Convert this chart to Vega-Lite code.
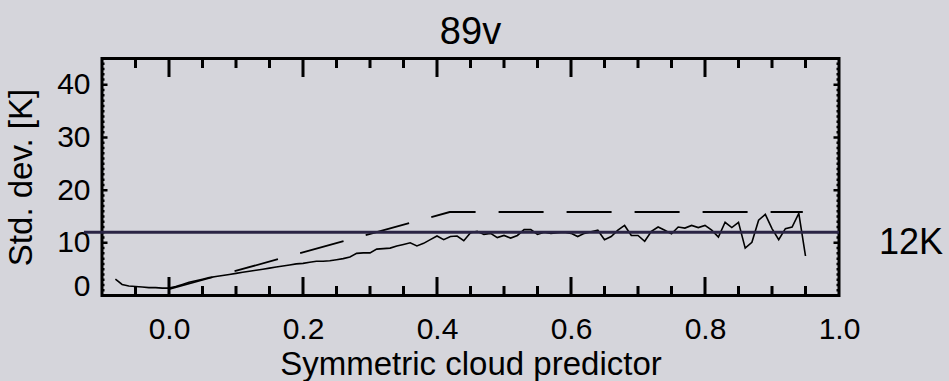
{
  "$schema": "https://vega.github.io/schema/vega-lite/v6.json",
  "width": 737,
  "height": 237,
  "autosize": "none",
  "padding": {"left": 102, "top": 58.5, "right": 110, "bottom": 85.5},
  "background": "#d5d5db",
  "title": {"text": "89v", "fontSize": 38, "font": "Liberation Sans", "fontWeight": "normal", "color": "#000000", "anchor": "middle", "offset": 7},
  "config": {
    "view": {"stroke": "#000000", "strokeWidth": 3},
    "font": "Liberation Sans",
    "axis": {"domain": false, "grid": false, "ticks": false, "labelColor": "#000000", "titleColor": "#000000", "labelFont": "Liberation Sans", "titleFont": "Liberation Sans", "titleFontWeight": "normal", "labelFlush": false, "labelOverlap": false}
  },
  "datasets": {
    "curve": [
      {"c": -0.08, "sd": 3.1}, {"c": -0.07, "sd": 2.1}, {"c": -0.06, "sd": 1.8}, {"c": -0.05, "sd": 1.7},
      {"c": -0.04, "sd": 1.6}, {"c": -0.03, "sd": 1.5}, {"c": -0.02, "sd": 1.5}, {"c": -0.01, "sd": 1.4},
      {"c": 0.00, "sd": 1.4}, {"c": 0.01, "sd": 1.7}, {"c": 0.02, "sd": 2.1}, {"c": 0.03, "sd": 2.5},
      {"c": 0.04, "sd": 2.8}, {"c": 0.05, "sd": 3.1}, {"c": 0.06, "sd": 3.4}, {"c": 0.07, "sd": 3.6},
      {"c": 0.08, "sd": 3.8}, {"c": 0.09, "sd": 4.0}, {"c": 0.10, "sd": 4.2}, {"c": 0.11, "sd": 4.4},
      {"c": 0.12, "sd": 4.6}, {"c": 0.13, "sd": 4.8}, {"c": 0.14, "sd": 5.0}, {"c": 0.15, "sd": 5.2},
      {"c": 0.16, "sd": 5.4}, {"c": 0.17, "sd": 5.6}, {"c": 0.18, "sd": 5.8}, {"c": 0.19, "sd": 6.0},
      {"c": 0.20, "sd": 6.1}, {"c": 0.21, "sd": 6.3}, {"c": 0.22, "sd": 6.5}, {"c": 0.23, "sd": 6.5},
      {"c": 0.24, "sd": 6.6}, {"c": 0.25, "sd": 6.8}, {"c": 0.26, "sd": 7.0}, {"c": 0.27, "sd": 7.3},
      {"c": 0.28, "sd": 8.0}, {"c": 0.29, "sd": 8.1}, {"c": 0.30, "sd": 8.1}, {"c": 0.31, "sd": 8.8},
      {"c": 0.32, "sd": 8.9}, {"c": 0.33, "sd": 9.0}, {"c": 0.34, "sd": 9.4}, {"c": 0.35, "sd": 9.7},
      {"c": 0.36, "sd": 10.0}, {"c": 0.37, "sd": 9.4}, {"c": 0.38, "sd": 9.9}, {"c": 0.39, "sd": 10.6},
      {"c": 0.40, "sd": 11.3}, {"c": 0.41, "sd": 10.6}, {"c": 0.42, "sd": 11.2}, {"c": 0.43, "sd": 11.3},
      {"c": 0.44, "sd": 10.4}, {"c": 0.45, "sd": 11.9}, {"c": 0.46, "sd": 12.2}, {"c": 0.47, "sd": 11.6},
      {"c": 0.48, "sd": 11.8}, {"c": 0.49, "sd": 11.0}, {"c": 0.50, "sd": 11.4}, {"c": 0.51, "sd": 10.9},
      {"c": 0.52, "sd": 11.4}, {"c": 0.53, "sd": 12.5}, {"c": 0.54, "sd": 12.5}, {"c": 0.55, "sd": 11.6},
      {"c": 0.56, "sd": 12.0}, {"c": 0.57, "sd": 11.8}, {"c": 0.58, "sd": 11.9}, {"c": 0.59, "sd": 12.0},
      {"c": 0.60, "sd": 11.8}, {"c": 0.61, "sd": 11.2}, {"c": 0.62, "sd": 11.8}, {"c": 0.63, "sd": 12.1},
      {"c": 0.64, "sd": 12.4}, {"c": 0.65, "sd": 10.6}, {"c": 0.66, "sd": 11.2}, {"c": 0.67, "sd": 12.4},
      {"c": 0.68, "sd": 13.3}, {"c": 0.69, "sd": 11.4}, {"c": 0.70, "sd": 11.4}, {"c": 0.71, "sd": 10.3},
      {"c": 0.72, "sd": 12.2}, {"c": 0.73, "sd": 13.0}, {"c": 0.74, "sd": 12.4}, {"c": 0.75, "sd": 11.7},
      {"c": 0.76, "sd": 13.0}, {"c": 0.77, "sd": 12.8}, {"c": 0.78, "sd": 13.3}, {"c": 0.79, "sd": 12.9},
      {"c": 0.80, "sd": 13.3}, {"c": 0.81, "sd": 12.4}, {"c": 0.82, "sd": 11.1}, {"c": 0.83, "sd": 13.9},
      {"c": 0.84, "sd": 12.9}, {"c": 0.85, "sd": 13.9}, {"c": 0.86, "sd": 9.0}, {"c": 0.87, "sd": 10.1},
      {"c": 0.88, "sd": 14.3}, {"c": 0.89, "sd": 15.4}, {"c": 0.90, "sd": 12.7}, {"c": 0.91, "sd": 10.6},
      {"c": 0.92, "sd": 12.7}, {"c": 0.93, "sd": 13.0}, {"c": 0.94, "sd": 15.6}, {"c": 0.95, "sd": 7.5}
    ],
    "model": [
      {"c": 0.0, "sd": 1.2},
      {"c": 0.419, "sd": 15.85},
      {"c": 0.946, "sd": 15.85}
    ],
    "ref": [
      {"level": 12, "label": "12K"}
    ],
    "xticks": [
      {"v": -0.05}, {"v": 0.0}, {"v": 0.05}, {"v": 0.1}, {"v": 0.15}, {"v": 0.2}, {"v": 0.25},
      {"v": 0.3}, {"v": 0.35}, {"v": 0.4}, {"v": 0.45}, {"v": 0.5}, {"v": 0.55}, {"v": 0.6},
      {"v": 0.65}, {"v": 0.7}, {"v": 0.75}, {"v": 0.8}, {"v": 0.85}, {"v": 0.9}, {"v": 0.95}
    ],
    "yticks": [
      {"v": 1}, {"v": 2}, {"v": 3}, {"v": 4}, {"v": 5}, {"v": 6}, {"v": 7}, {"v": 8}, {"v": 9}, {"v": 10},
      {"v": 11}, {"v": 12}, {"v": 13}, {"v": 14}, {"v": 15}, {"v": 16}, {"v": 17}, {"v": 18}, {"v": 19}, {"v": 20},
      {"v": 21}, {"v": 22}, {"v": 23}, {"v": 24}, {"v": 25}, {"v": 26}, {"v": 27}, {"v": 28}, {"v": 29}, {"v": 30},
      {"v": 31}, {"v": 32}, {"v": 33}, {"v": 34}, {"v": 35}, {"v": 36}, {"v": 37}, {"v": 38}, {"v": 39}, {"v": 40},
      {"v": 41}, {"v": 42}, {"v": 43}, {"v": 44}
    ]
  },
  "layer": [
    {
      "data": {"name": "curve"},
      "mark": {"type": "line", "color": "#000000", "strokeWidth": 1.6},
      "encoding": {
        "x": {
          "field": "c", "type": "quantitative",
          "scale": {"domain": [-0.1, 1.0], "nice": false, "zero": false},
          "axis": {"orient": "bottom", "values": [0, 0.2, 0.4, 0.6, 0.8, 1.0], "format": ".1f", "labelPadding": 19, "labelFontSize": 30, "title": "Symmetric cloud predictor", "titleFontSize": 33, "titlePadding": 4}
        },
        "y": {
          "field": "sd", "type": "quantitative",
          "scale": {"domain": [0, 45], "nice": false, "zero": false},
          "axis": {"orient": "left", "values": [0, 10, 20, 30, 40], "labelPadding": 12, "labelFontSize": 30, "labelOffset": {"condition": {"test": "datum.value === 0", "value": -9}, "value": 0}, "title": "Std. dev. [K]", "titleFontSize": 33, "titlePadding": 18}
        }
      }
    },
    {
      "data": {"name": "model"},
      "mark": {"type": "line", "color": "#000000", "strokeWidth": 1.8, "strokeDash": [45, 23]},
      "encoding": {
        "x": {"field": "c", "type": "quantitative", "scale": {"domain": [-0.1, 1.0], "nice": false, "zero": false}},
        "y": {"field": "sd", "type": "quantitative", "scale": {"domain": [0, 45], "nice": false, "zero": false}}
      }
    },
    {
      "data": {"name": "xticks"},
      "mark": {"type": "tick", "orient": "vertical", "color": "#000000", "thickness": 3, "opacity": 1, "clip": true},
      "encoding": {
        "x": {"field": "v", "type": "quantitative", "scale": {"domain": [-0.1, 1.0], "nice": false, "zero": false}},
        "y": {"datum": 0, "type": "quantitative", "scale": {"domain": [0, 45], "nice": false, "zero": false}},
        "size": {"condition": {"test": "abs(datum.v * 5 - round(datum.v * 5)) < 0.001", "value": 37}, "value": 19}
      }
    },
    {
      "data": {"name": "xticks"},
      "mark": {"type": "tick", "orient": "vertical", "color": "#000000", "thickness": 3, "opacity": 1, "clip": true},
      "encoding": {
        "x": {"field": "v", "type": "quantitative", "scale": {"domain": [-0.1, 1.0], "nice": false, "zero": false}},
        "y": {"datum": 45, "type": "quantitative", "scale": {"domain": [0, 45], "nice": false, "zero": false}},
        "size": {"condition": {"test": "abs(datum.v * 5 - round(datum.v * 5)) < 0.001", "value": 37}, "value": 19}
      }
    },
    {
      "data": {"name": "yticks"},
      "mark": {"type": "tick", "orient": "horizontal", "color": "#000000", "thickness": 2.5, "opacity": 1, "clip": true},
      "encoding": {
        "x": {"datum": -0.1, "type": "quantitative", "scale": {"domain": [-0.1, 1.0], "nice": false, "zero": false}},
        "y": {"field": "v", "type": "quantitative", "scale": {"domain": [0, 45], "nice": false, "zero": false}},
        "size": {"condition": {"test": "datum.v % 10 === 0", "value": 11}, "value": 5}
      }
    },
    {
      "data": {"name": "yticks"},
      "mark": {"type": "tick", "orient": "horizontal", "color": "#000000", "thickness": 2.5, "opacity": 1, "clip": true},
      "encoding": {
        "x": {"datum": 1.0, "type": "quantitative", "scale": {"domain": [-0.1, 1.0], "nice": false, "zero": false}},
        "y": {"field": "v", "type": "quantitative", "scale": {"domain": [0, 45], "nice": false, "zero": false}},
        "size": {"condition": {"test": "datum.v % 10 === 0", "value": 11}, "value": 5}
      }
    },
    {
      "data": {"name": "ref"},
      "mark": {"type": "rule", "color": "#2a2444", "strokeWidth": 3},
      "encoding": {
        "x": {"datum": -0.127, "type": "quantitative", "scale": {"domain": [-0.1, 1.0], "nice": false, "zero": false}},
        "x2": {"datum": 1.0},
        "y": {"field": "level", "type": "quantitative", "scale": {"domain": [0, 45], "nice": false, "zero": false}}
      }
    },
    {
      "data": {"name": "ref"},
      "mark": {"type": "text", "color": "#000000", "font": "Liberation Sans", "fontSize": 36, "align": "left", "baseline": "middle", "dx": 40, "dy": 11},
      "encoding": {
        "x": {"datum": 1.0, "type": "quantitative", "scale": {"domain": [-0.1, 1.0], "nice": false, "zero": false}},
        "y": {"field": "level", "type": "quantitative", "scale": {"domain": [0, 45], "nice": false, "zero": false}},
        "text": {"field": "label"}
      }
    }
  ]
}
